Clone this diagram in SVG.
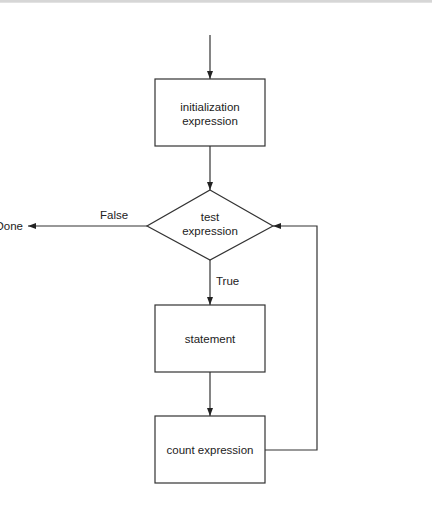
<svg xmlns="http://www.w3.org/2000/svg" width="432" height="507" viewBox="0 0 432 507">
<style>
.box{fill:#fff;stroke:#333;stroke-width:1.2}
.ln{fill:none;stroke:#333;stroke-width:1.2}
text{font-family:"Liberation Sans",Arial,sans-serif;font-size:11.5px;fill:#222}
.c{text-anchor:middle}
</style>
<defs>
<marker id="ah" viewBox="0 0 8 6" refX="8" refY="3" markerWidth="8" markerHeight="6" markerUnits="userSpaceOnUse" orient="auto">
<path d="M0,0 L8,3 L0,6 z" fill="#222"/>
</marker>
</defs>
<rect x="0" y="0" width="432" height="507" fill="#fff"/>
<rect x="0" y="0" width="432" height="2.7" fill="#d6d6d6"/>
<g id="connectors">
<line class="ln" x1="210" y1="35" x2="210" y2="79" marker-end="url(#ah)"/>
<line class="ln" x1="210" y1="146" x2="210" y2="190" marker-end="url(#ah)"/>
<line class="ln" x1="147" y1="226" x2="28" y2="226" marker-end="url(#ah)"/>
<text x="100" y="219">False</text>
<line class="ln" x1="210" y1="260" x2="210" y2="305" marker-end="url(#ah)"/>
<text x="216" y="285">True</text>
<line class="ln" x1="210" y1="372" x2="210" y2="416" marker-end="url(#ah)"/>
<polyline class="ln" points="265,450 317,450 317,226 273,226" marker-end="url(#ah)"/>
</g>
<g id="init">
<rect class="box" x="155" y="79" width="110" height="67"/>
<text class="c" x="210" y="111">initialization</text>
<text class="c" x="210" y="125">expression</text>
</g>
<g id="test">
<polygon class="box" points="210,190 273,226 210,260 147,226"/>
<text class="c" x="210" y="221">test</text>
<text class="c" x="210" y="235">expression</text>
</g>
<g id="done">
<text x="23" y="230" text-anchor="end">Done</text>
</g>
<g id="statement">
<rect class="box" x="155" y="305" width="110" height="67"/>
<text class="c" x="210" y="343">statement</text>
</g>
<g id="count">
<rect class="box" x="155" y="416" width="110" height="67"/>
<text class="c" x="210" y="454">count expression</text>
</g>
</svg>
